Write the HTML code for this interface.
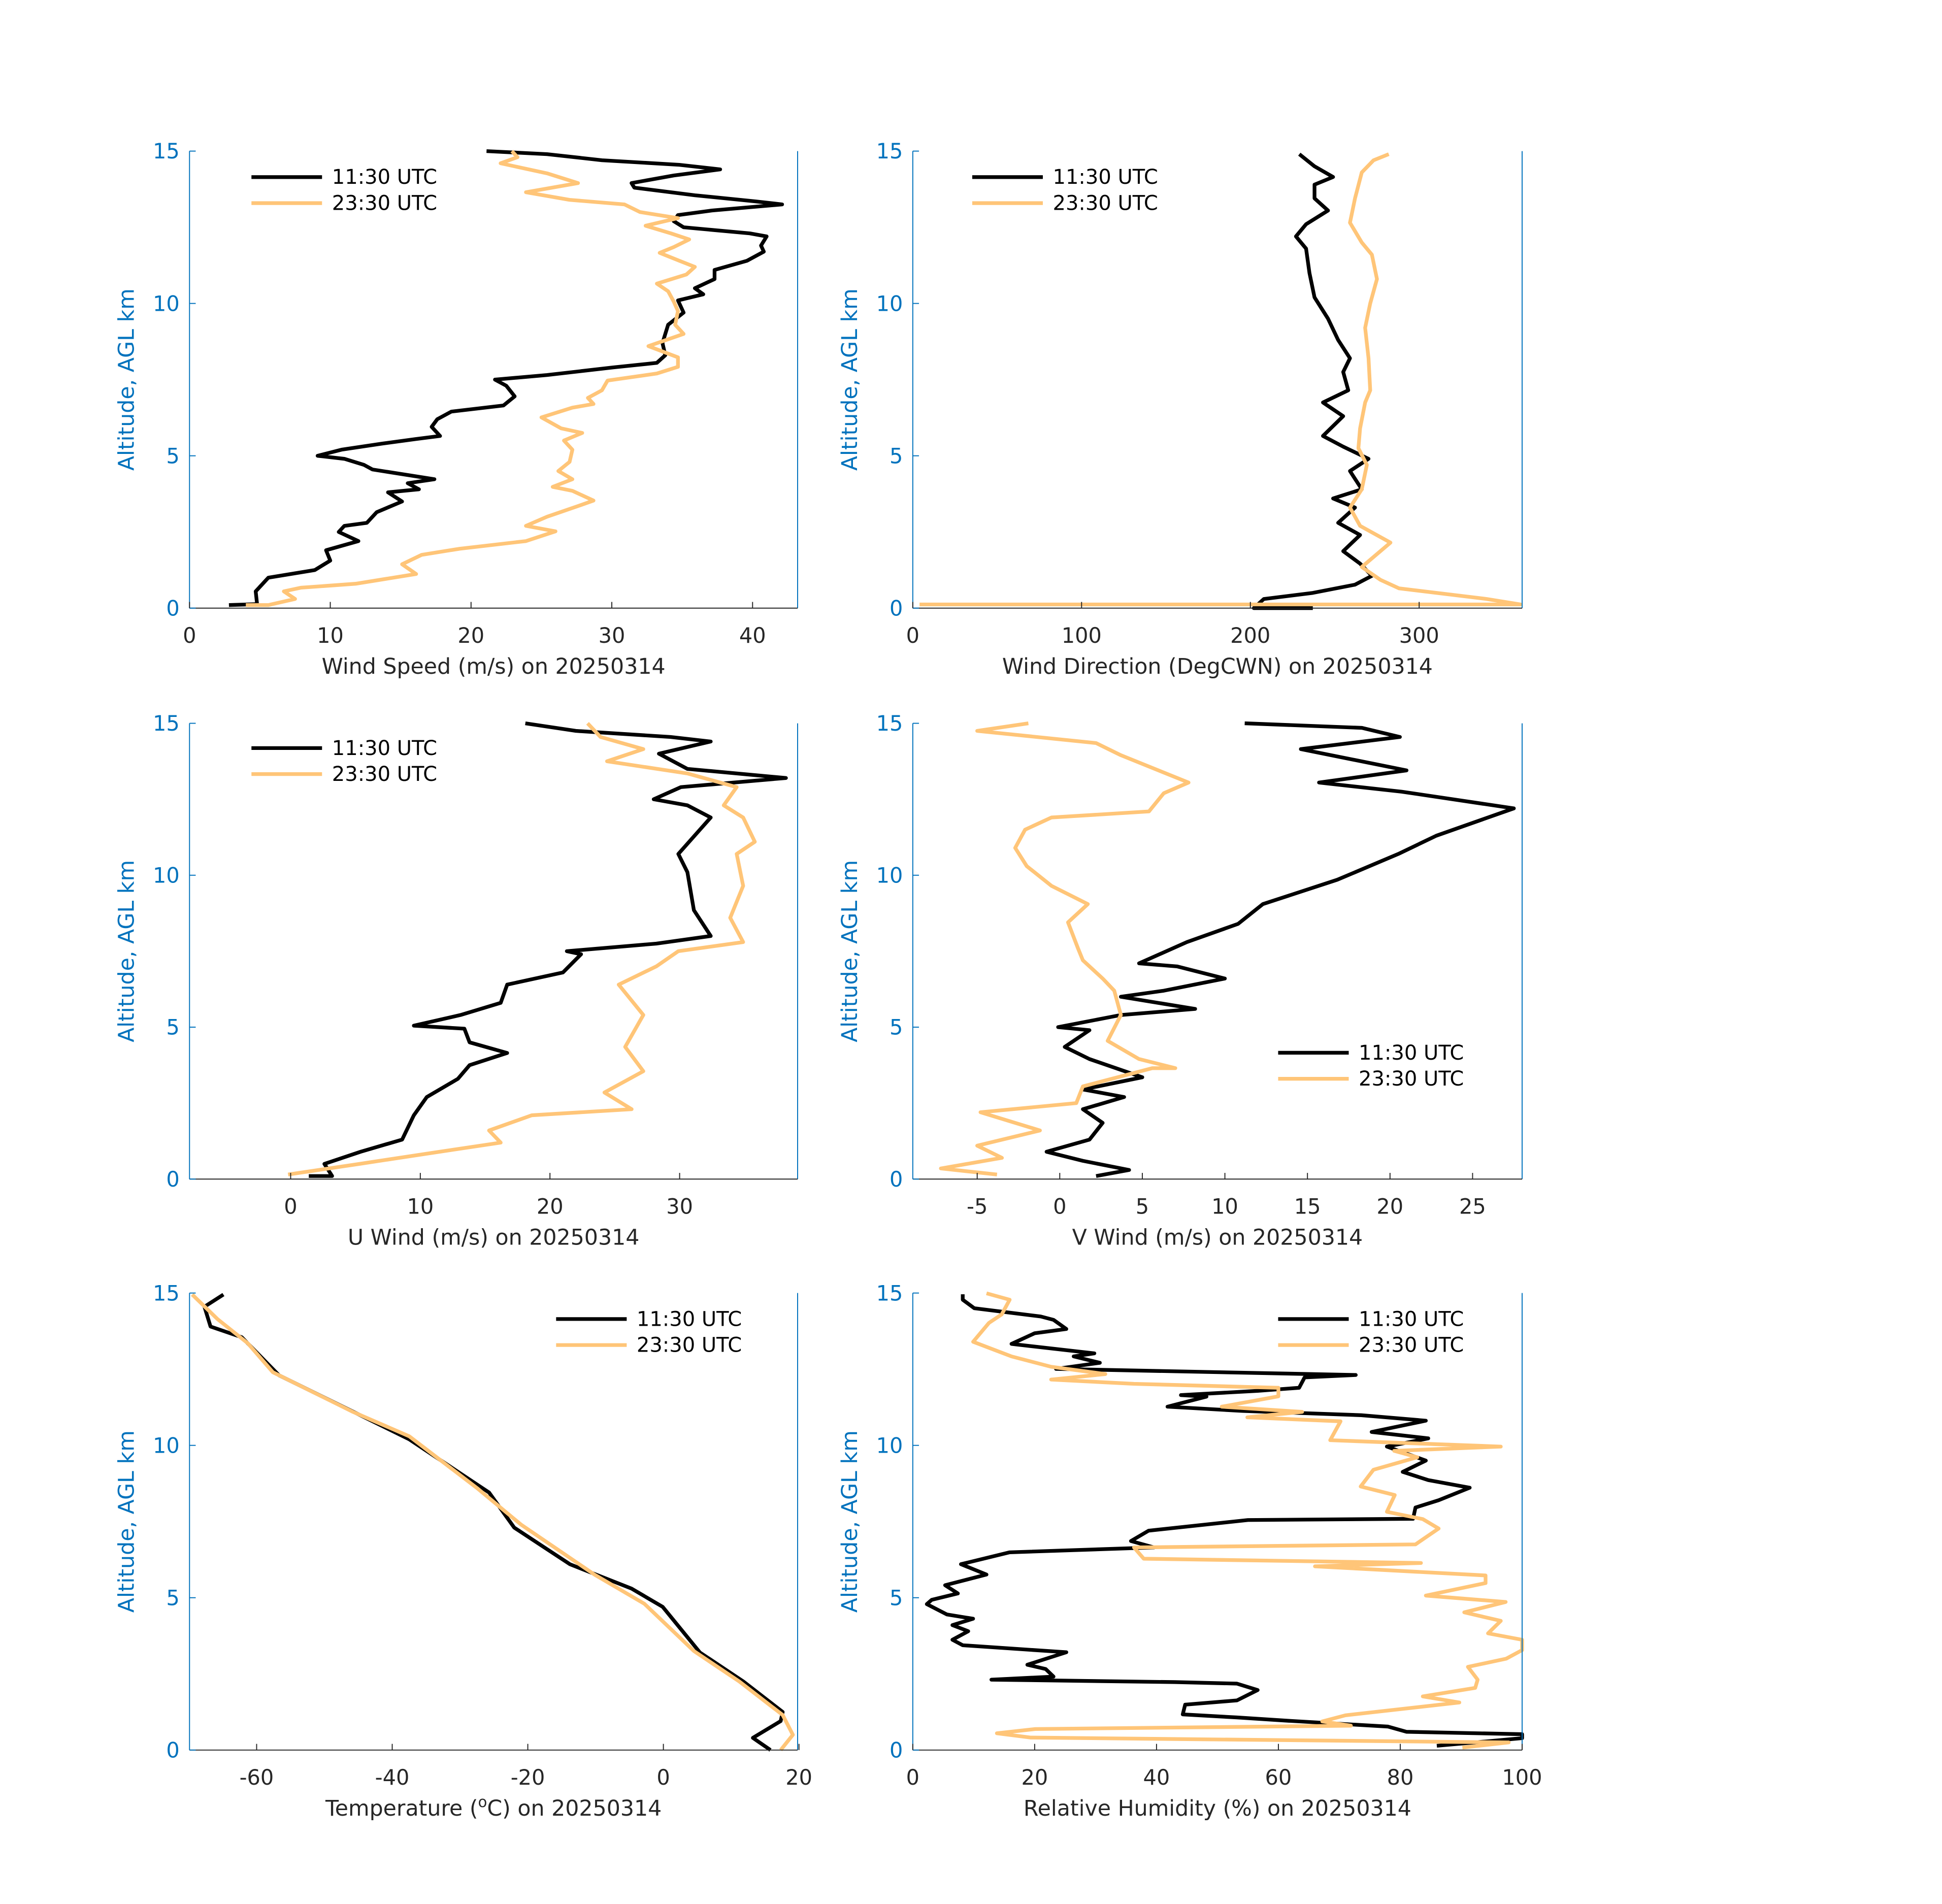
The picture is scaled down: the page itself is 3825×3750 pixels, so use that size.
<!DOCTYPE html>
<html><head><meta charset="utf-8"><style>
body{margin:0;background:#fff}
svg{display:block}
text{font-family:"DejaVu Sans","Liberation Sans",sans-serif}
</style></head><body>
<svg id="fig" width="3825" height="3750" viewBox="0 0 1568 1537.3" xmlns="http://www.w3.org/2000/svg">
<rect width="1568" height="1537.3" fill="#fff"/>
</svg>
<script>
// ---- data (altitude km, values) ----
const wsAltA=[0.1,0.13,0.55,0.8,1.0,1.25,1.56,1.9,2.2,2.5,2.7,2.8,3.15,3.5,3.8,3.9,4.1,4.23,4.55,4.7,4.9,5.0,5.2,5.4,5.55,5.65,5.95,6.2,6.45,6.65,6.95,7.3,7.5,7.65,7.9,8.05,8.3,8.7,9.0,9.3,9.7,10.1,10.3,10.5,10.8,11.1,11.4,11.7,11.9,12.2,12.3,12.5,12.7,12.9,13.05,13.25,13.35,13.55,13.8,13.95,14.2,14.4,14.55,14.7,14.9,15.0];
const wsA=[2.8,4.8,4.7,5.2,5.6,8.9,10.0,9.7,12.0,10.6,11.0,12.6,13.3,15.1,14.1,16.3,15.5,17.4,13.0,12.4,11.0,9.1,10.8,13.7,16.1,17.8,17.2,17.6,18.6,22.3,23.1,22.5,21.7,25.4,30.1,33.2,33.8,33.6,33.8,34.0,35.1,34.7,36.5,35.9,37.3,37.3,39.6,40.8,40.6,41.0,39.8,35.1,34.4,34.7,37.1,42.1,40.2,35.9,31.6,31.4,34.4,37.7,34.8,29.3,25.4,21.1];
const wsAltB=[0.1,0.1,0.3,0.55,0.67,0.8,1.12,1.44,1.75,1.95,2.2,2.52,2.7,3.0,3.35,3.53,3.85,3.98,4.23,4.5,4.8,5.2,5.5,5.75,5.9,6.26,6.58,6.7,6.9,7.15,7.47,7.7,7.92,8.23,8.6,9.0,9.3,9.75,10.06,10.4,10.65,10.95,11.2,11.4,11.66,11.85,12.1,12.3,12.55,12.8,13.0,13.25,13.4,13.65,13.95,14.27,14.6,14.8,15.0];
const wsB=[4.0,5.6,7.5,6.7,7.9,11.8,16.1,15.1,16.5,19.2,23.9,26.0,23.9,25.4,27.6,28.7,27.2,25.8,27.2,26.2,27.0,27.2,26.6,27.9,26.4,25.0,27.2,28.7,28.3,29.3,29.7,33.2,34.7,34.7,32.6,35.1,34.5,34.7,34.4,34.0,33.2,35.3,35.9,34.8,33.4,34.4,35.5,34.2,32.4,34.7,32.0,30.9,27.0,23.9,27.6,25.4,22.1,23.3,22.9];

const wdAltA=[0,0,0.3,0.5,0.77,1.06,1.46,1.87,2.4,2.8,3.3,3.6,3.9,4.5,4.9,5.3,5.65,6.3,6.75,7.15,7.75,8.2,8.8,9.5,10.2,11.0,11.8,12.2,12.6,13.05,13.45,13.9,14.15,14.5,14.9];
const wdA=[237,202,208,237,262,272,265,255,265,252,262,249,266,259,270,255,243,255,243,258,255,259,252,246,238,235,233,227,233,246,238,238,249,238,229];
const wdAltB=[0.12,0.12,0.3,0.65,0.93,1.35,2.15,2.7,3.3,3.9,4.7,5.25,5.9,6.75,7.15,8.2,9.2,10.0,10.8,11.6,12.0,12.65,13.45,14.3,14.7,14.9];
const wdB=[4,360,340,288,277,266,283,265,259,266,269,264,265,268,271,270,268,271,275,272,266,259,262,266,273,282];

const uAltA=[0.1,0.1,0.5,0.9,1.3,2.1,2.7,3.3,3.75,4.15,4.5,4.95,5.05,5.4,5.8,6.4,6.8,7.4,7.5,7.75,8.0,8.85,10.1,10.7,11.9,12.3,12.5,12.9,13.2,13.5,14.0,14.4,14.55,14.75,15.0];
const uA=[1.4,3.2,2.6,5.4,8.6,9.5,10.5,12.9,13.8,16.7,13.8,13.4,9.5,13.1,16.2,16.7,21,22.4,21.3,28.2,32.4,31.1,30.6,29.9,32.4,30.6,28,30.1,38.2,30.6,28.4,32.4,29.3,22,18.1];
const uAltB=[0.15,0.5,0.9,1.2,1.6,2.1,2.3,2.85,3.55,4.35,5.4,6.4,7.0,7.5,7.8,8.6,9.65,10.7,11.1,11.9,12.3,12.9,13.35,13.75,14.15,14.55,15.0];
const uB=[-0.2,5.3,11.5,16.2,15.3,18.6,26.3,24.2,27.2,25.8,27.2,25.3,28.2,29.9,34.9,33.9,34.9,34.4,35.8,34.9,33.4,34.4,30.6,24.4,27.2,23.9,22.9];

const vAltA=[0.1,0.3,0.6,0.9,1.3,1.85,2.3,2.7,2.95,3.35,3.95,4.35,4.9,5.0,5.4,5.6,6.0,6.2,6.6,7.0,7.1,7.8,8.4,9.05,9.85,10.7,11.3,12.2,12.75,13.05,13.45,14.15,14.55,14.85,15.0];
const vA=[2.2,4.2,1.4,-0.8,1.8,2.6,1.4,3.9,1.4,5,1.8,0.3,1.8,-0.1,3.7,8.2,3.7,6.3,10,7.1,4.8,7.7,10.8,12.3,16.8,20.5,22.8,27.5,20.7,15.7,21,14.6,20.6,18.3,11.2];
const vAltB=[0.15,0.35,0.7,1.1,1.6,2.2,2.5,3.05,3.65,3.65,3.95,4.55,5.4,6.2,6.6,7.2,7.6,8.45,9.05,9.65,10.3,10.9,11.5,11.9,12.1,12.7,13.05,13.95,14.35,14.75,15.0];
const vB=[-3.8,-7.2,-3.5,-5,-1.2,-4.8,1,1.4,5.6,7,4.8,2.9,3.7,3.3,2.6,1.4,1.1,0.5,1.7,-0.5,-2,-2.7,-2.1,-0.5,5.4,6.3,7.8,3.7,2.2,-5,-1.9];

const tAltA=[0,0.4,0.95,1.25,2.25,3.2,4.7,5.3,6.1,7.3,8.45,10.2,11.0,12.3,13.55,13.9,14.55,14.95];
const tA=[15.8,13.2,17.3,17.6,11.8,5.4,-0.1,-4.7,-13.8,-22,-25.7,-37.5,-44.8,-56.7,-62.2,-66.8,-67.7,-64.9];
const tAltB=[0,0.5,1.15,2.25,3.25,4.8,5.75,7.4,8.6,10.3,11.1,12.4,13.35,14.15,14.95];
const tB=[17.3,19.1,17.6,11.2,4.5,-2.8,-10.1,-21,-27.5,-37.5,-45.8,-57.6,-61.3,-65.8,-69.5];

const rhAltA=[0.14,0.28,0.39,0.52,0.6,0.77,0.96,1.07,1.17,1.49,1.63,1.97,2.18,2.23,2.31,2.41,2.66,2.8,3.21,3.44,3.62,3.9,4.1,4.31,4.45,4.79,4.93,5.14,5.41,5.76,6.1,6.49,6.65,6.86,7.2,7.55,7.59,7.96,8.2,8.61,8.86,9.13,9.5,9.96,10.23,10.44,10.81,10.99,11.13,11.27,11.6,11.65,11.79,11.89,12.23,12.31,12.51,12.71,12.92,13.02,13.33,13.68,13.82,14.12,14.23,14.5,14.78,14.96];
const rhA=[86,93.9,100,100,81,78,61.7,53.2,44.3,44.7,53.2,56.6,53.2,43,12.9,23.1,21.8,18.8,25.2,8.2,6.5,9.1,6.5,9.9,5.6,2.3,3.1,7.4,5.3,12.1,7.9,15.9,39.6,35.8,38.7,55,82.1,82.5,86.3,91.4,84.6,80.4,84.2,77.8,84.6,75.3,84.2,73.6,54.1,41.8,48.2,44,56.6,63.4,64.3,72.7,23.5,30.7,26.4,29.8,16.2,20,25.2,23.1,21,10.1,8.2,8.2];
const rhAltB=[0.08,0.25,0.41,0.55,0.69,0.8,0.94,1.14,1.56,1.76,2.04,2.31,2.73,3.0,3.28,3.62,3.83,4.24,4.52,4.86,5.07,5.48,5.73,6.03,6.14,6.28,6.65,6.75,7.27,7.58,7.82,8.37,8.65,9.2,9.61,9.82,9.96,10.17,10.79,10.92,11.1,11.27,11.61,11.89,12.02,12.16,12.34,12.58,12.92,13.4,14.02,14.3,14.78,14.99];
const rhB=[90.2,97.8,19.3,13.8,20.1,71.9,67.2,71,89.7,83.7,92.3,92.7,91.1,97.4,100,100,94.4,96.5,90.5,97.3,84.2,94,94,66,83.4,37.9,36.3,82.5,86.3,83.7,77.8,79.1,73.5,75.6,82.8,79,96.5,68.5,70.2,54.9,63.9,50.7,60,60,36.3,22.7,31.6,22.7,16.2,9.9,12.5,14.6,15.9,12.1];

const xTicksWS=[0,10,20,30,40];
const xTicksWD=[0,100,200,300];
const xTicksU=[0,10,20,30];
const xTicksV=[-5,0,5,10,15,20,25];
const xTicksT=[-60,-40,-20,0,20];
const xTicksRH=[0,20,40,60,80,100];
const yTicks=[0,5,10,15];

const NS='http://www.w3.org/2000/svg';
const svg=document.getElementById('fig');
const BLUE='#0072BD', ORANGE='#FFC578', DARK='#262626';
function mk(tag,attrs,parent){const e=document.createElementNS(NS,tag);for(const k in attrs)e.setAttribute(k,attrs[k]);(parent||svg).appendChild(e);return e;}

function panel(cfg){
  const g=mk('g',{});
  
  
  const L=cfg.x0,R=cfg.x1,T=cfg.y0,B=cfg.y1;
  const xs=v=>L+(v-cfg.xmin)/(cfg.xmax-cfg.xmin)*(R-L);
  const ys=a=>B-a/15*(B-T);
  cfg.series.forEach(s=>{
    let d='';
    s.alt.forEach((a,i)=>{d+=(i?'L':'M')+xs(s.val[i]).toFixed(2)+','+ys(a).toFixed(2);});
    const p=mk('path',{d:d,fill:'none',stroke:s.color,'stroke-width':3,'stroke-linejoin':'round'},g);
    
    
  });
  const yl=mk('line',{x1:L,y1:T,x2:L,y2:B,stroke:BLUE,'stroke-width':0.8},g);
  
  
  const yr=mk('line',{x1:R,y1:T,x2:R,y2:B,stroke:BLUE,'stroke-width':0.8},g);
  
  
  const xl=mk('line',{x1:L,y1:B,x2:R,y2:B,stroke:DARK,'stroke-width':0.8},g);
  
  
  yTicks.forEach(t=>{
    mk('line',{x1:L,y1:ys(t),x2:L+5,y2:ys(t),stroke:BLUE,'stroke-width':0.8},g);
    const tx=mk('text',{x:L-8,y:ys(t)+6,'text-anchor':'end','font-size':17,fill:BLUE},g);
    tx.textContent=t;
    
    
  });
  cfg.xticks.forEach(t=>{
    mk('line',{x1:xs(t),y1:B,x2:xs(t),y2:B-5,stroke:DARK,'stroke-width':0.8},g);
    const tx=mk('text',{x:xs(t),y:B+28,'text-anchor':'middle','font-size':17,fill:DARK},g);
    tx.textContent=t;
    
    
  });
  const ylab=mk('text',{x:0,y:0,transform:'translate('+(L-45)+','+((T+B)/2)+') rotate(-90)','text-anchor':'middle','font-size':17.5,fill:BLUE},g);
  ylab.textContent='Altitude, AGL km';
  
  
  const xlab=mk('text',{x:(L+R)/2,y:B+53,'text-anchor':'middle','font-size':17.5,fill:DARK},g);
  xlab.innerHTML=cfg.xlabel;
  
  
  const lg=mk('g',{},g);
  
  
  [['11:30 UTC','#000',0],['23:30 UTC',ORANGE,1]].forEach(e=>{
    const y=cfg.ly+e[2]*21;
    mk('line',{x1:cfg.lx,y1:y,x2:cfg.lx+57,y2:y,stroke:e[1],'stroke-width':3},lg);
    const t=mk('text',{x:cfg.lx+65,y:y+5.5,'font-size':16.4,fill:'#000'},lg);
    t.textContent=e[0];
    
    
  });
}
const Lc=[153,644],Rc=[737,1229];
const rows=[[122,491],[584,952],[1044,1413]];
panel({name:'wind-speed',x0:Lc[0],x1:Lc[1],y0:rows[0][0],y1:rows[0][1],xmin:0,xmax:43.2,xticks:xTicksWS,xlabel:'Wind Speed (m/s) on 20250314',lx:203,ly:143,
  series:[{key:'1130',alt:wsAltA,val:wsA,color:'#000'},{key:'2330',alt:wsAltB,val:wsB,color:ORANGE}]});
panel({name:'wind-direction',x0:Rc[0],x1:Rc[1],y0:rows[0][0],y1:rows[0][1],xmin:0,xmax:361,xticks:xTicksWD,xlabel:'Wind Direction (DegCWN) on 20250314',lx:785,ly:143,
  series:[{key:'1130',alt:wdAltA,val:wdA,color:'#000'},{key:'2330',alt:wdAltB,val:wdB,color:ORANGE}]});
panel({name:'u-wind',x0:Lc[0],x1:Lc[1],y0:rows[1][0],y1:rows[1][1],xmin:-7.8,xmax:39.1,xticks:xTicksU,xlabel:'U Wind (m/s) on 20250314',lx:203,ly:604,
  series:[{key:'1130',alt:uAltA,val:uA,color:'#000'},{key:'2330',alt:uAltB,val:uB,color:ORANGE}]});
panel({name:'v-wind',x0:Rc[0],x1:Rc[1],y0:rows[1][0],y1:rows[1][1],xmin:-8.9,xmax:28.0,xticks:xTicksV,xlabel:'V Wind (m/s) on 20250314',lx:1032,ly:850,
  series:[{key:'1130',alt:vAltA,val:vA,color:'#000'},{key:'2330',alt:vAltB,val:vB,color:ORANGE}]});
panel({name:'temperature',x0:Lc[0],x1:Lc[1],y0:rows[2][0],y1:rows[2][1],xmin:-69.9,xmax:19.8,xticks:xTicksT,xlabel:'Temperature (<tspan font-size="12" dy="-7">o</tspan><tspan dy="7">C) on 20250314</tspan>',lx:449,ly:1065,
  series:[{key:'1130',alt:tAltA,val:tA,color:'#000'},{key:'2330',alt:tAltB,val:tB,color:ORANGE}]});
panel({name:'relative-humidity',x0:Rc[0],x1:Rc[1],y0:rows[2][0],y1:rows[2][1],xmin:0,xmax:100,xticks:xTicksRH,xlabel:'Relative Humidity (%) on 20250314',lx:1032,ly:1065,
  series:[{key:'1130',alt:rhAltA,val:rhA,color:'#000'},{key:'2330',alt:rhAltB,val:rhB,color:ORANGE}]});
</script>
</body></html>
